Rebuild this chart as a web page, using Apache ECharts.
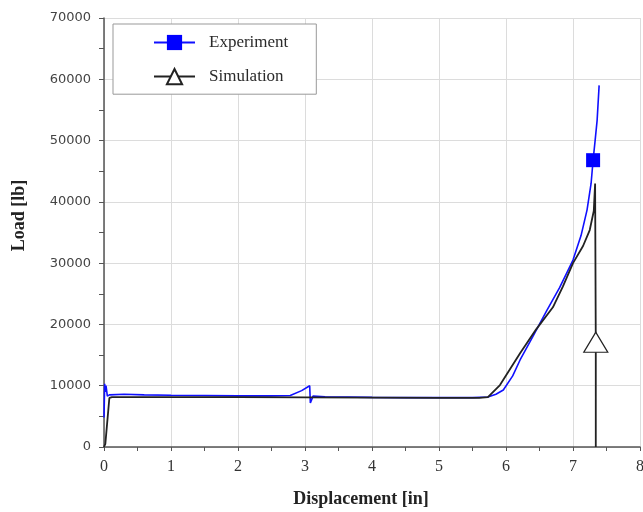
<!DOCTYPE html>
<html>
<head>
<meta charset="utf-8">
<script src="https://cdn.jsdelivr.net/npm/echarts@6/dist/echarts.min.js"></script>
<style>
  html, body { margin: 0; padding: 0; background: #fff; }
  #chart { width: 643px; height: 512px; }
</style>
</head>
<body>
<div id="chart"></div>
<script>
  // data (displacement in inches, load in lb)
  const expDisp = [0, 0.01, 0.02, 0.03, 0.05, 0.08, 0.3, 0.6, 1.0, 1.5, 2.0, 2.5, 2.78, 2.95, 3.07, 3.08, 3.12, 3.3, 4.0, 4.5, 5.0, 5.5, 5.73, 5.85, 5.96, 6.1, 6.21, 6.4, 6.61, 6.8, 7.0, 7.12, 7.21, 7.27, 7.30, 7.33, 7.36, 7.39];
  const expLoad = [4800, 10300, 9000, 10000, 8300, 8500, 8600, 8500, 8450, 8400, 8350, 8350, 8400, 9200, 10000, 7200, 8300, 8200, 8100, 8050, 8050, 8050, 8150, 8600, 9300, 11600, 14200, 18000, 22300, 26000, 30500, 34500, 38700, 43000, 46800, 50000, 53300, 59000];
  const simDisp = [0, 0.02, 0.08, 0.12, 1.0, 2.0, 3.0, 4.0, 5.0, 5.6, 5.73, 5.91, 6.21, 6.45, 6.70, 6.85, 7.0, 7.15, 7.25, 7.31, 7.33, 7.34, 7.34];
  const simLoad = [0, 500, 8000, 8150, 8150, 8150, 8100, 8050, 8000, 8000, 8150, 10100, 15300, 19200, 22800, 26200, 30000, 32800, 35400, 38500, 43000, 17100, 0];
  const expMarkerAt = 34;   // index of the square marker
  const simMarkerAt = 21;   // index of the triangle marker

  function pairs(xs, ys, markAt) {
    return xs.map(function (x, i) {
      return {
        value: [x, ys[i]],
        symbol: i === markAt ? undefined : 'none'
      };
    });
  }

  const chart = echarts.init(document.getElementById('chart'));
  const option = {
    animation: false,
    grid: { left: 104, right: 3, top: 18, bottom: 65, outerBoundsMode: 'none' },
    legend: {
      orient: 'vertical',
      left: 113,
      top: 24,
      padding: [10, 28, 9, 40],
      itemWidth: 41,
      itemHeight: 19,
      itemGap: 17,
      borderColor: '#999',
      borderWidth: 1,
      backgroundColor: '#fff',
      textStyle: { fontFamily: 'Liberation Serif', fontSize: 17, color: '#2a2a2a', padding: [0, 0, 0, 9] },
      data: ['Experiment', 'Simulation']
    },
    xAxis: {
      type: 'value',
      min: 0,
      max: 8,
      interval: 1,
      name: 'Displacement [in]',
      nameLocation: 'middle',
      nameGap: 43,
      nameTextStyle: { fontFamily: 'Liberation Serif', fontWeight: 'bold', fontSize: 18, color: '#222', padding: [0, 22, 0, 0] },
      axisLine: { lineStyle: { color: '#555', width: 1.5 } },
      axisTick: { length: 4, lineStyle: { color: '#555' } },
      minorTick: { show: true, splitNumber: 2, length: 4, lineStyle: { color: '#555' } },
      axisLabel: { fontFamily: 'Liberation Serif', fontSize: 16, color: '#333', margin: 12 },
      splitLine: { show: true, lineStyle: { color: '#dcdcdc' } }
    },
    yAxis: {
      type: 'value',
      min: 0,
      max: 70000,
      interval: 10000,
      name: 'Load [lb]',
      nameLocation: 'middle',
      nameGap: 76,
      nameTextStyle: { fontFamily: 'Liberation Serif', fontWeight: 'bold', fontSize: 18, color: '#222', padding: [0, 0, 0, 34] },
      axisLine: { show: true, lineStyle: { color: '#555', width: 1.5 } },
      axisTick: { show: true, length: 5, lineStyle: { color: '#555' } },
      minorTick: { show: true, splitNumber: 2, length: 5, lineStyle: { color: '#555' } },
      axisLabel: {
        fontFamily: 'DejaVu Sans', fontSize: 13, color: '#444', margin: 13,
        formatter: function (v) { return String(v); }
      },
      splitLine: { show: true, lineStyle: { color: '#dcdcdc' } }
    },
    series: [
      {
        name: 'Experiment',
        type: 'line',
        data: pairs(expDisp, expLoad, expMarkerAt),
        symbol: 'rect',
        symbolSize: 14,
        showAllSymbol: true,
        lineStyle: { color: '#1010ff', width: 1.6 },
        itemStyle: { color: '#0000ff', borderWidth: 0 },
        z: 2
      },
      {
        name: 'Simulation',
        type: 'line',
        data: pairs(simDisp, simLoad, simMarkerAt),
        symbol: 'triangle',
        symbolSize: [24, 20],
        showAllSymbol: true,
        lineStyle: { color: '#222', width: 1.8 },
        itemStyle: { color: '#fff', borderColor: '#222', borderWidth: 1.2 },
        z: 3
      }
    ]
  };
  chart.setOption(option);
</script>
</body>
</html>
